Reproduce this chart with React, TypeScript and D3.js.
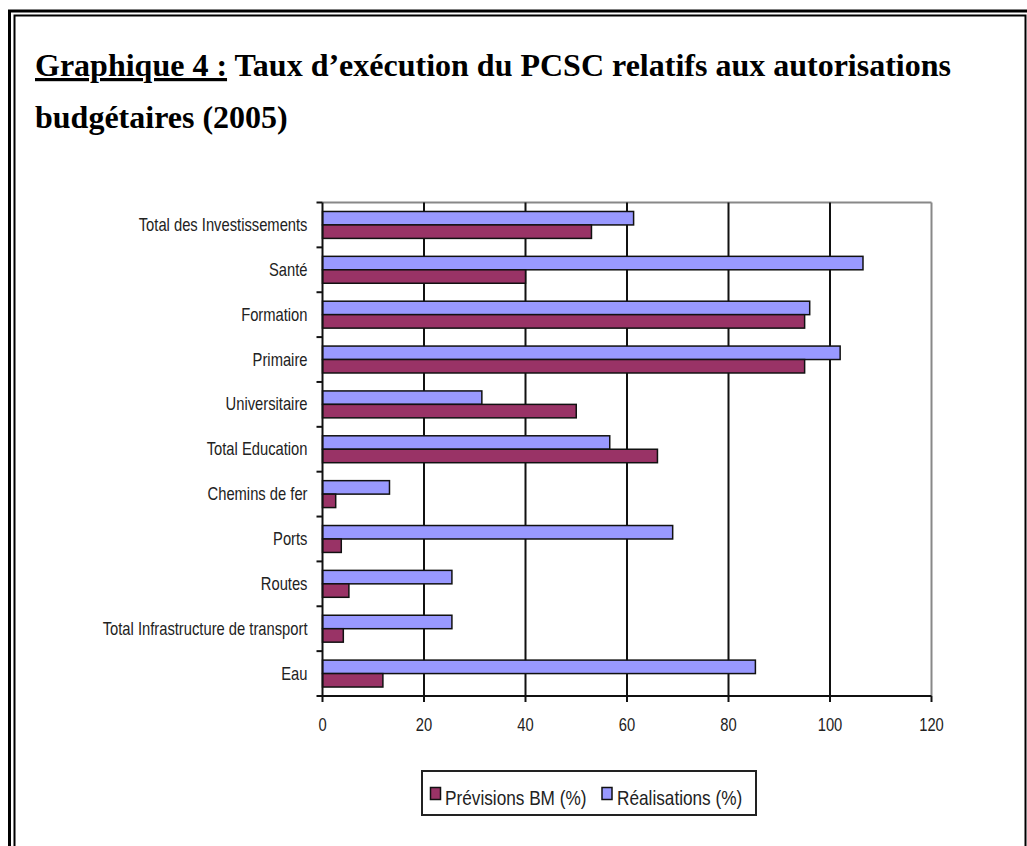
import React from "react";
import * as d3 from "d3";

const categories = [
  "Total des Investissements",
  "Santé",
  "Formation",
  "Primaire",
  "Universitaire",
  "Total Education",
  "Chemins de fer",
  "Ports",
  "Routes",
  "Total Infrastructure de transport",
  "Eau",
];
const previsions = [53, 40, 95, 95, 50, 66, 2.6, 3.7, 5.2, 4.1, 11.9];
const realisations = [61.3, 106.5, 96, 102, 31.4, 56.6, 13.2, 69, 25.5, 25.5, 85.3];
const xTicks = [0, 20, 40, 60, 80, 100, 120];
const seriesNames = ["Prévisions BM (%)", "Réalisations (%)"];
const colors = ["#993366", "#9999FF"];

export default function App() {
  const W = 1027, H = 846;
  const left = 322.5, right = 931.5, top = 202.5, bottom = 696;
  const x = d3.scaleLinear().domain([0, 120]).range([left, right]);
  const y = d3.scaleBand<string>().domain(categories).range([top, bottom]).paddingInner(0.4).paddingOuter(0.2);
  const y0 = d3.scaleBand<string>().domain(categories).range([top, bottom]);
  const sub = d3.scaleBand<string>().domain(["r", "p"]).range([0, y.bandwidth()]);
  const labelFont = "'Liberation Sans', Arial, sans-serif";
  const sx = 0.82;
  const serif = "'Liberation Serif', 'Times New Roman', serif";

  return (
    <div style={{ position: "absolute", left: 0, top: 0 }}>
      <svg width={W} height={H} style={{ display: "block", background: "#fff" }}>
        {/* double frame */}
        <rect x={9.5} y={11} width={1020} height={H + 20} fill="none" stroke="#000" strokeWidth={3} />
        <rect x={14.5} y={15.5} width={1011} height={H + 20} fill="none" stroke="#000" strokeWidth={2} />
        {/* title */}
        <text x={35} y={76} fontFamily={serif} fontWeight="bold" fontSize={32}>
          <tspan textDecoration="underline">Graphique 4 :</tspan>
          <tspan> Taux d’exécution du PCSC relatifs aux autorisations</tspan>
        </text>
        <text x={35} y={128} fontFamily={serif} fontWeight="bold" fontSize={32}>
          budgétaires (2005)
        </text>
        {/* plot border */}
        <line x1={left} x2={right} y1={top} y2={top} stroke="#888" strokeWidth={2} />
        <line x1={right} x2={right} y1={top} y2={bottom} stroke="#888" strokeWidth={2} />
        {/* gridlines */}
        {xTicks.filter((t) => t > 0 && t < 120).map((t) => (
          <line key={t} x1={x(t)} x2={x(t)} y1={top} y2={bottom} stroke="#111" strokeWidth={2} />
        ))}
        {/* bars */}
        {categories.map((c, i) => (
          <g key={c}>
            <rect x={x(0)} y={(y(c) as number) + (sub("r") as number)} width={x(realisations[i]) - x(0)} height={sub.bandwidth()} fill={colors[1]} stroke="#111" strokeWidth={1.5} />
            <rect x={x(0)} y={(y(c) as number) + (sub("p") as number)} width={x(previsions[i]) - x(0)} height={sub.bandwidth()} fill={colors[0]} stroke="#111" strokeWidth={1.5} />
          </g>
        ))}
        {/* axes */}
        <line x1={left} x2={left} y1={top} y2={bottom} stroke="#111" strokeWidth={2} />
        <line x1={left - 5} x2={right} y1={bottom} y2={bottom} stroke="#111" strokeWidth={2} />
        {categories.concat([""]).map((c, i) => {
          const yy = top + i * y0.step();
          return <line key={"t" + i} x1={left - 6} x2={left} y1={yy} y2={yy} stroke="#111" strokeWidth={2} />;
        })}
        {xTicks.map((t) => (
          <g key={"x" + t}>
            <line x1={x(t)} x2={x(t)} y1={bottom} y2={bottom + 6} stroke="#111" strokeWidth={2} />
            <text transform={`translate(${x(t)},${bottom + 35}) scale(${sx},1)`} textAnchor="middle" fontFamily={labelFont} fontSize={18} fill="#222">
              {t}
            </text>
          </g>
        ))}
        {categories.map((c) => (
          <text key={"l" + c} transform={`translate(${left - 15},${(y0(c) as number) + y0.bandwidth() / 2 + 6}) scale(${sx},1)`} textAnchor="end" fontFamily={labelFont} fontSize={18} fill="#222">
            {c}
          </text>
        ))}
        {/* legend */}
        <rect x={422} y={771} width={334} height={44} fill="#fff" stroke="#222" strokeWidth={2} />
        <rect x={430.5} y={787.5} width={10} height={12} fill={colors[0]} stroke="#111" strokeWidth={1.5} />
        <text transform={`translate(445,805) scale(${sx},1)`} fontFamily={labelFont} fontSize={21} fill="#222">{seriesNames[0]}</text>
        <rect x={602} y={787.5} width={10} height={12} fill={colors[1]} stroke="#111" strokeWidth={1.5} />
        <text transform={`translate(617,805) scale(${sx},1)`} fontFamily={labelFont} fontSize={21} fill="#222">{seriesNames[1]}</text>
      </svg>
    </div>
  );
}
